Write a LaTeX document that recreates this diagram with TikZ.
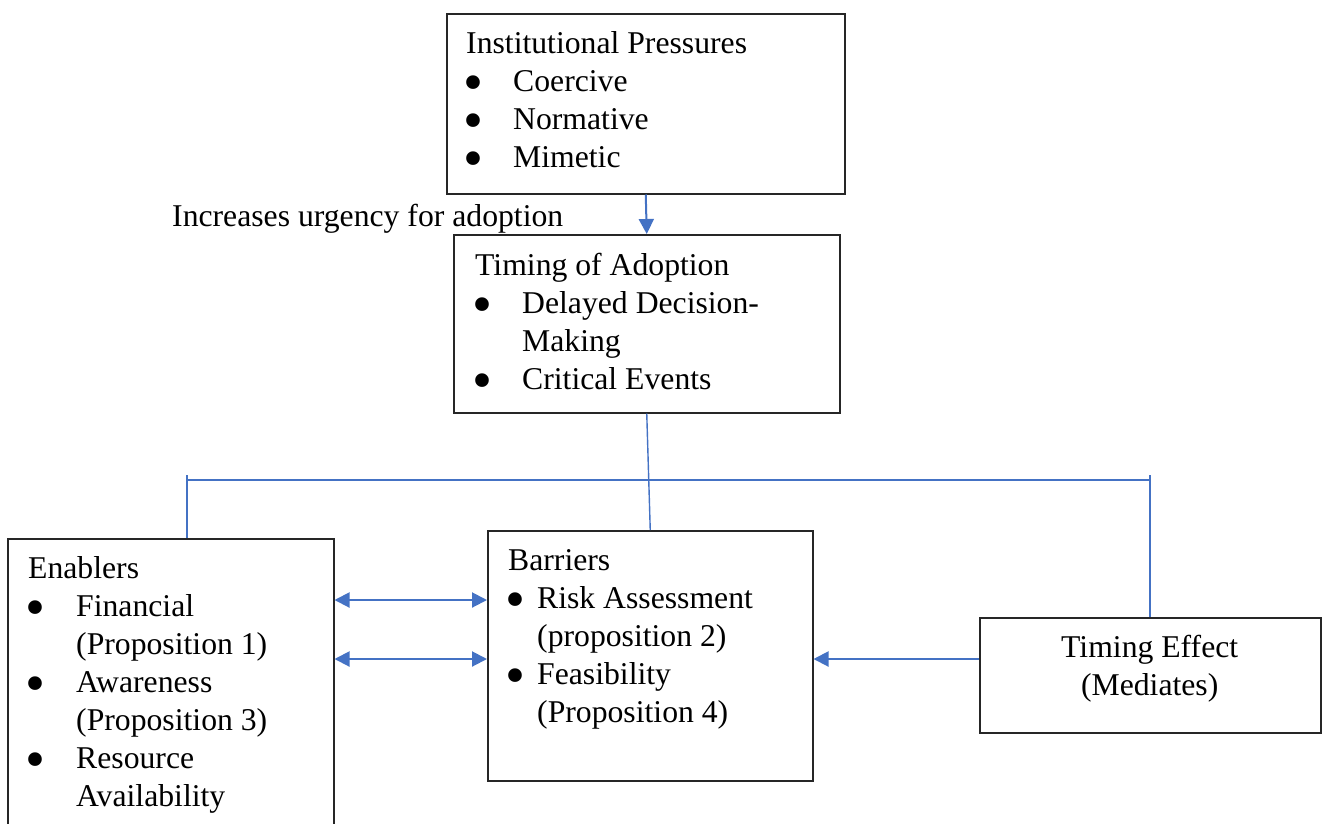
\documentclass[tikz,border=0pt]{standalone}
\usepackage{fontspec}
\usepackage{graphicx}
\setmainfont{Liberation Serif}
\usetikzlibrary{arrows.meta}
\definecolor{linkblue}{HTML}{4472C4}
\definecolor{boxgray}{HTML}{262626}
% bullet item: enlarged bullet in a fixed-width slot, then the item text
\newcommand\bigbul{\smash{\raisebox{-10pt}{\scalebox{1.8}{\textbullet}}}}
\newcommand\itm[2]{\makebox[#1][l]{\hspace*{-3pt}\bigbul}#2}
\begin{document}
\begin{tikzpicture}[x=1pt,y=-1pt,
  box/.style={draw=boxgray, line width=1.5pt, inner sep=0pt, anchor=north west},
  link/.style={draw=linkblue, line width=1.4pt},
  arr/.style={draw=linkblue, line width=2pt, -{Triangle[length=15pt,width=15pt]}},
  darr/.style={draw=linkblue, line width=2pt, {Triangle[length=15pt,width=15pt]}-{Triangle[length=15pt,width=15pt]}},
  txt/.style={inner sep=0pt, anchor=base west, font=\fontsize{31.7}{38}\selectfont},
]
\useasboundingbox (0,0) rectangle (1326,823);
\clip (0,0) rectangle (1326,823);

% boxes
\node[box, minimum width=398pt, minimum height=180pt] (inst) at (446,13) {};
\node[box, minimum width=386pt, minimum height=178pt] (tim) at (453,234) {};
\node[box, minimum width=326pt, minimum height=300pt] (enab) at (7,538) {};
\node[box, minimum width=325pt, minimum height=250pt] (barr) at (487,530) {};
\node[box, minimum width=341pt, minimum height=115pt] (teff) at (979,617) {};

% box contents
\node[txt] (instT) at (466,53) {\begin{minipage}[t]{370pt}\raggedright
Institutional Pressures\\
\itm{47pt}{Coercive}\\
\itm{47pt}{Normative}\\
\itm{47pt}{Mimetic}\end{minipage}};

\node[txt] (timT) at (475,275) {\begin{minipage}[t]{360pt}\raggedright
Timing of Adoption\\
\itm{47pt}{Delayed Decision-}\\
\hspace*{47pt}Making\\
\itm{47pt}{Critical Events}\end{minipage}};

\node[txt] (enabT) at (28,578) {\begin{minipage}[t]{300pt}\raggedright
Enablers\\
\itm{48pt}{Financial}\\
\hspace*{48pt}(Proposition 1)\\
\itm{48pt}{Awareness}\\
\hspace*{48pt}(Proposition 3)\\
\itm{48pt}{Resource}\\
\hspace*{48pt}Availability\end{minipage}};

\node[txt] (barrT) at (508,570) {\begin{minipage}[t]{300pt}\raggedright
Barriers\\
\itm{29pt}{Risk Assessment}\\
\hspace*{29pt}(proposition 2)\\
\itm{29pt}{Feasibility}\\
\hspace*{29pt}(Proposition 4)\end{minipage}};

\node[txt] (teffT) at (979,657) {\begin{minipage}[t]{341pt}\centering
Timing Effect\\
(Mediates)\end{minipage}};

\node[txt] (lbl) at (172,226) {Increases urgency for adoption};

% connectors
\draw[arr] (inst.south) -- (tim.north);
\draw[link] (tim.south) -- (barr.north);

\coordinate (busL) at (187,480);
\coordinate (busR) at (1150,480);
\coordinate (tickL) at (187,475);
\coordinate (tickR) at (1150,475);
\draw[link] (busL) -- (busR);
\draw[link] (tickL) -- (tickL |- enab.north);
\draw[link] (tickR) -- (tickR |- teff.north);

\draw[darr] (enab.east |- 0,600) -- (barr.west |- 0,600);
\draw[darr] (enab.east |- 0,659) -- (barr.west |- 0,659);
\draw[arr] (teff.west |- 0,659) -- (barr.east |- 0,659);
\end{tikzpicture}
\end{document}
